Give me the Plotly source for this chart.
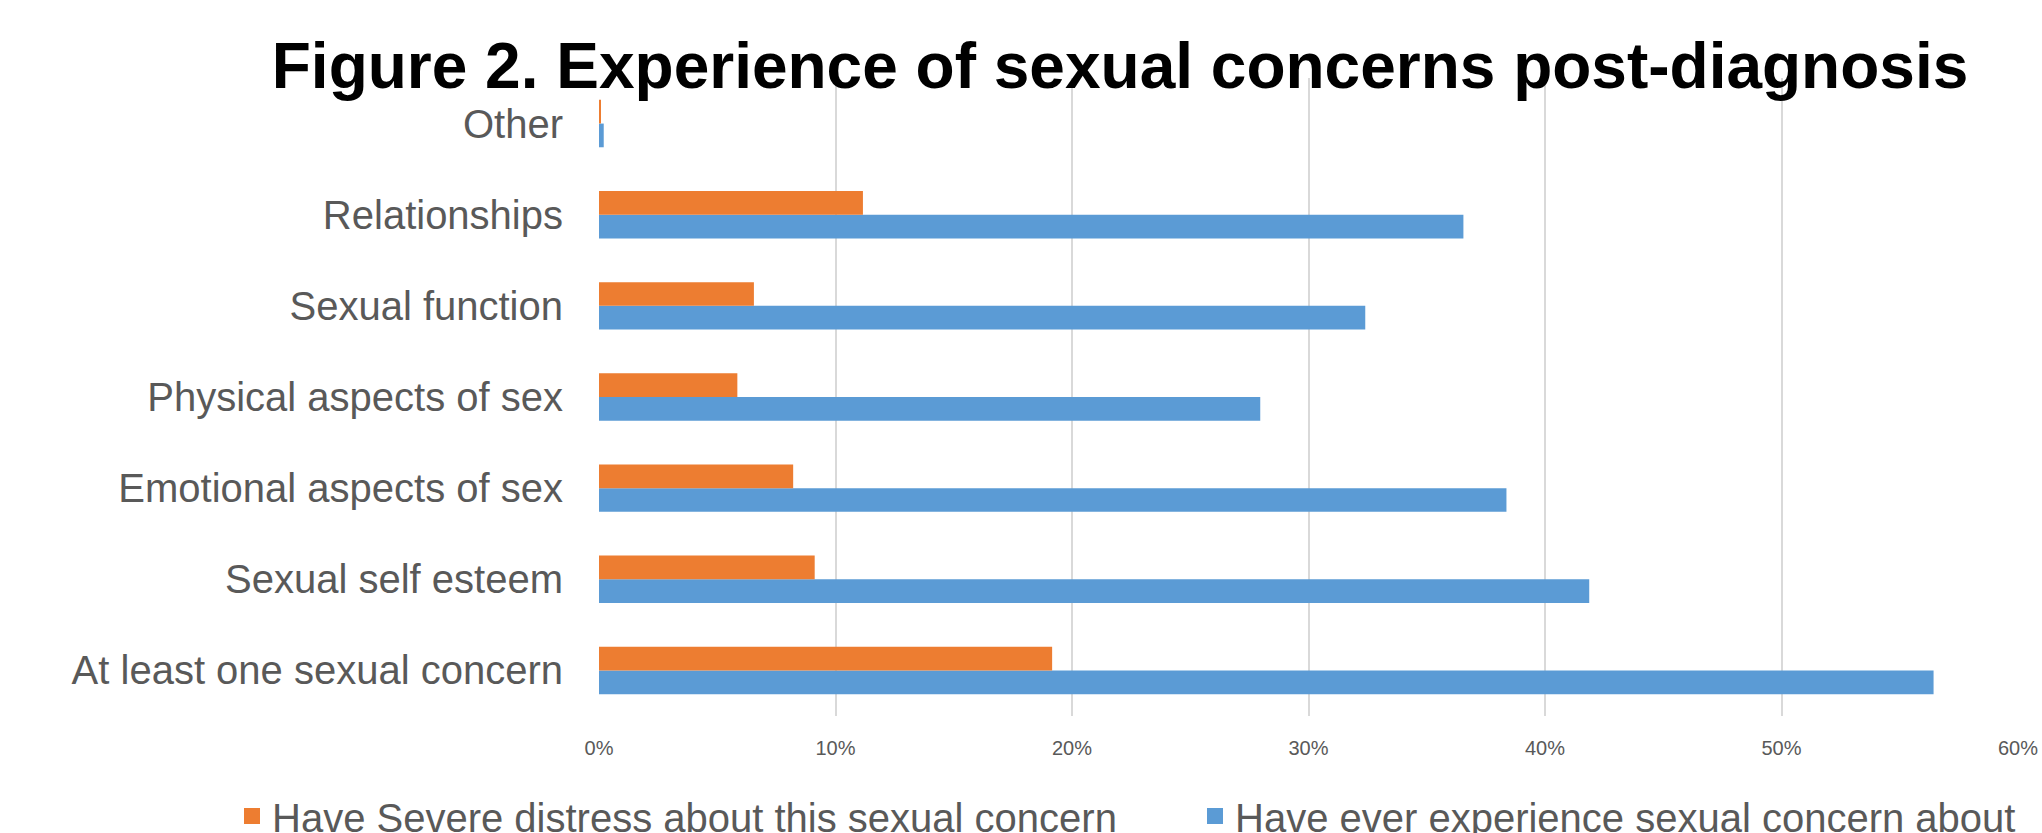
import plotly.graph_objects as go

categories = ["At least one sexual concern", "Sexual self esteem", "Emotional aspects of sex",
              "Physical aspects of sex", "Sexual function", "Relationships", "Other"]
severe_distress = [0.1916, 0.0912, 0.0821, 0.0585, 0.0655, 0.1116, 0.0008]
ever_experienced = [0.5643, 0.4187, 0.3837, 0.2796, 0.3240, 0.3655, 0.0020]
x_ticks = [0, 0.1, 0.2, 0.3, 0.4, 0.5, 0.6]
x_tick_labels = ["0%", "10%", "20%", "30%", "40%", "50%", "60%"]

name_severe = "Have Severe distress about this sexual concern"
name_ever = "Have ever experience sexual concern about"
color_severe = "#ED7D31"
color_ever = "#5B9BD5"

W, H = 2042, 833
fig = go.Figure()
fig.add_trace(go.Bar(y=categories, x=ever_experienced, orientation="h", name=name_ever,
                     marker=dict(color=color_ever, line=dict(width=0)),
                     showlegend=False, legendgroup="ever"))
fig.add_trace(go.Bar(y=categories, x=severe_distress, orientation="h", name=name_severe,
                     marker=dict(color=color_severe, line=dict(width=0)),
                     showlegend=False, legendgroup="severe"))
# legend entries (square swatches)
fig.add_trace(go.Scatter(x=[None], y=[None], mode="markers", name=name_severe,
                         marker=dict(symbol="square", size=16, color=color_severe),
                         legend="legend", legendgroup="severe"))
fig.add_trace(go.Scatter(x=[None], y=[None], mode="markers", name=name_ever,
                         marker=dict(symbol="square", size=16, color=color_ever),
                         legend="legend2", legendgroup="ever"))

legend_common = dict(orientation="h", xref="container", yref="container", xanchor="left",
                     yanchor="middle", y=1 - 816 / H, font=dict(size=40, color="#595959"),
                     itemwidth=30, itemsizing="trace", bgcolor="rgba(0,0,0,0)")
fig.update_layout(
    width=W, height=H,
    paper_bgcolor="white", plot_bgcolor="white",
    barmode="group", bargap=0.48, bargroupgap=0,
    margin=dict(l=599, r=24, t=78, b=H - 716, autoexpand=False),
    font=dict(family="Liberation Sans, Arial, sans-serif", color="#595959"),
    title=dict(text="<b>Figure 2. Experience of sexual concerns post-diagnosis</b>",
               font=dict(size=64, color="black", family="Liberation Sans, Arial, sans-serif"),
               xref="container", yref="container", x=1120 / W, xanchor="center",
               y=1 - 66 / H, yanchor="middle"),
    showlegend=True,
    legend=dict(x=(272 - 40) / W, **legend_common),
    legend2=dict(x=(1235 - 40) / W, **legend_common),
)
fig.update_xaxes(range=[0, 0.6], tickvals=x_ticks, ticktext=x_tick_labels,
                 showgrid=True, gridcolor="#d9d9d9", gridwidth=1.5,
                 zeroline=False, showline=False, ticks="", ticklabeloverflow="allow",
                 tickfont=dict(size=20, color="#595959"), ticklabelstandoff=18, fixedrange=True)
fig.update_yaxes(type="category", categoryorder="array", categoryarray=categories,
                 showgrid=False, zeroline=False, showline=False, ticks="",
                 tickfont=dict(size=40, color="#595959"), ticklabelstandoff=35)

fig.write_html("out.html", config={"displayModeBar": False},
               post_script="document.body.style.margin='0px';document.body.style.overflow='hidden';")
